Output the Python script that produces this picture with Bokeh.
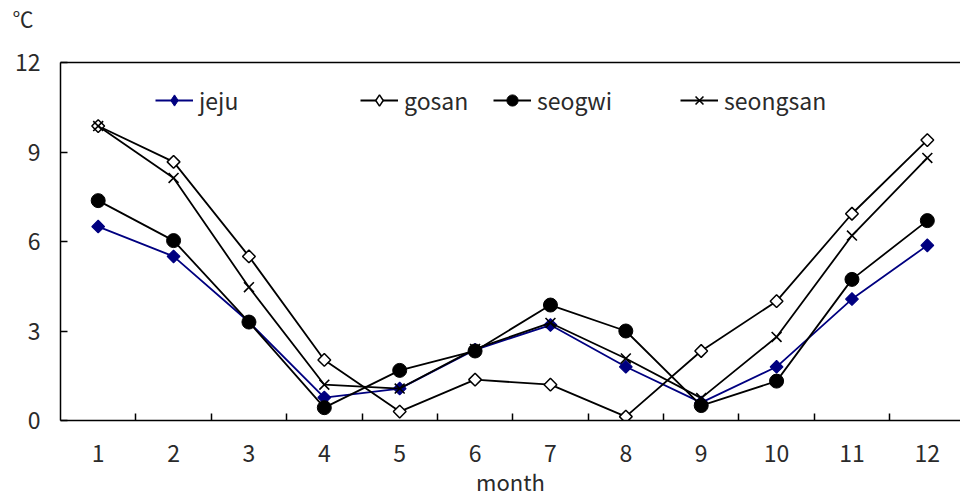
import math
from bokeh.plotting import figure
from bokeh.models import (ColumnDataSource, FixedTicker, LinearAxis, Range1d,
                          Legend, LegendItem, Title)
from bokeh.embed import file_html
from bokeh.resources import INLINE

months = [1, 2, 3, 4, 5, 6, 7, 8, 9, 10, 11, 12]
month_labels = ["1", "2", "3", "4", "5", "6", "7", "8", "9", "10", "11", "12"]
jeju = [6.5, 5.5, 3.3, 0.77, 1.07, 2.37, 3.2, 1.8, 0.6, 1.8, 4.07, 5.87]
gosan = [9.87, 8.67, 5.5, 2.03, 0.3, 1.37, 1.2, 0.13, 2.33, 4.0, 6.93, 9.4]
seogwi = [7.37, 6.03, 3.3, 0.43, 1.68, 2.33, 3.87, 3.0, 0.5, 1.32, 4.73, 6.7]
seongsan = [9.87, 8.13, 4.47, 1.2, 1.07, 2.4, 3.27, 2.08, 0.75, 2.8, 6.2, 8.8]
y_ticks = [0, 3, 6, 9, 12]
series_names = ["jeju", "gosan", "seogwi", "seongsan"]

FONT = "Noto Sans CJK KR"
NAVY = "#000080"
TXT = "#2a2a2a"

p = figure(width=960, height=499, output_backend="svg", toolbar_location=None,
           x_range=Range1d(0.5, 12.44), y_range=Range1d(0, 12),
           x_axis_type=None, y_axis_type=None,
           min_border_left=60, min_border_right=0, min_border_top=61,
           min_border_bottom=78)
p.outline_line_color = None
p.xgrid.visible = False
p.ygrid.visible = False
p.background_fill_color = "white"
p.border_fill_color = "white"

# bottom axis
xaxis = LinearAxis(ticker=FixedTicker(ticks=months,
                                      minor_ticks=[m + 0.5 for m in months[:-1]]),
                   major_label_overrides={m: l for m, l in zip(months, month_labels)},
                   axis_label="month")
xaxis.major_tick_line_color = None
xaxis.minor_tick_in = 7
xaxis.minor_tick_out = 0
xaxis.minor_tick_line_color = "black"
xaxis.minor_tick_line_width = 1.5
xaxis.axis_line_color = "black"
xaxis.axis_line_width = 1.5
xaxis.major_label_standoff = 18
xaxis.major_label_text_font = FONT
xaxis.major_label_text_font_size = "23px"
xaxis.major_label_text_color = TXT
xaxis.axis_label_standoff = 0
xaxis.axis_label_text_font = FONT
xaxis.axis_label_text_font_size = "22px"
xaxis.axis_label_text_font_style = "normal"
xaxis.axis_label_text_color = TXT
p.add_layout(xaxis, "below")

# left axis
yaxis = LinearAxis(ticker=FixedTicker(ticks=y_ticks, minor_ticks=[]))
yaxis.major_tick_in = 7
yaxis.major_tick_out = 0
yaxis.major_tick_line_width = 1.5
yaxis.axis_line_width = 1.5
yaxis.major_label_standoff = 20
yaxis.major_label_text_font = FONT
yaxis.major_label_text_font_size = "23px"
yaxis.major_label_text_color = TXT
p.add_layout(yaxis, "left")

# top frame line
top = LinearAxis(ticker=FixedTicker(ticks=[]), major_label_text_font_size="0px")
top.axis_line_width = 1.5
top.major_tick_line_color = None
top.minor_tick_line_color = None
top.major_tick_out = 0
top.major_tick_in = 0
top.major_label_standoff = 0
top.axis_label_standoff = 0
p.add_layout(top, "above")

# unit label (second, empty line lifts it toward the top edge)
unit = Title(text="℃\n\u00a0", align="left", offset=-48, standoff=0,
             text_font=FONT, text_font_size="21px", text_font_style="normal",
             text_color=TXT, text_line_height=1.0)
p.add_layout(unit, "above")

src = ColumnDataSource(dict(x=months, jeju=jeju, gosan=gosan,
                            seogwi=seogwi, seongsan=seongsan))

l1 = p.line("x", "jeju", source=src, line_color=NAVY, line_width=1.8)
g1 = p.scatter("x", "jeju", source=src, marker="diamond", size=10,
               fill_color=NAVY, line_color=NAVY)
m1 = p.scatter("x", "jeju", source=src, marker="square", angle=math.pi / 4,
               size=9, fill_color=NAVY, line_color=NAVY, line_width=1.2)
l2 = p.line("x", "gosan", source=src, line_color="black", line_width=1.8)
m2 = p.scatter("x", "gosan", source=src, marker="square", angle=math.pi / 4,
               size=9, fill_color="white", line_color="black", line_width=1.5)
l3 = p.line("x", "seogwi", source=src, line_color="black", line_width=1.8)
m3 = p.scatter("x", "seogwi", source=src, marker="circle", size=14,
               fill_color="black", line_color="black")
l4 = p.line("x", "seongsan", source=src, line_color="black", line_width=1.8)
m4 = p.scatter("x", "seongsan", source=src, marker="x", size=14,
               line_color="black", line_width=1.6)
# legend-only diamond for gosan (zero size in the plot)
g2 = p.scatter("x", "gosan", source=src, marker="diamond", size=0,
               fill_color="white", line_color="black", line_width=1.5)

rends = [[l1, g1], [l2, g2], [l3, m3], [l4, m4]]
xpos = [95, 300, 433, 620]
for name, rr, xp in zip(series_names, rends, xpos):
    lg = Legend(items=[LegendItem(label=name, renderers=rr)],
                location=(xp, 303), orientation="horizontal",
                border_line_color=None, background_fill_alpha=0,
                padding=0, margin=0, glyph_width=38, glyph_height=28,
                label_standoff=6, label_text_font=FONT,
                label_text_font_size="23px", label_text_color=TXT)
    p.add_layout(lg, "center")

open("out.html", "w").write(file_html(p, INLINE))
